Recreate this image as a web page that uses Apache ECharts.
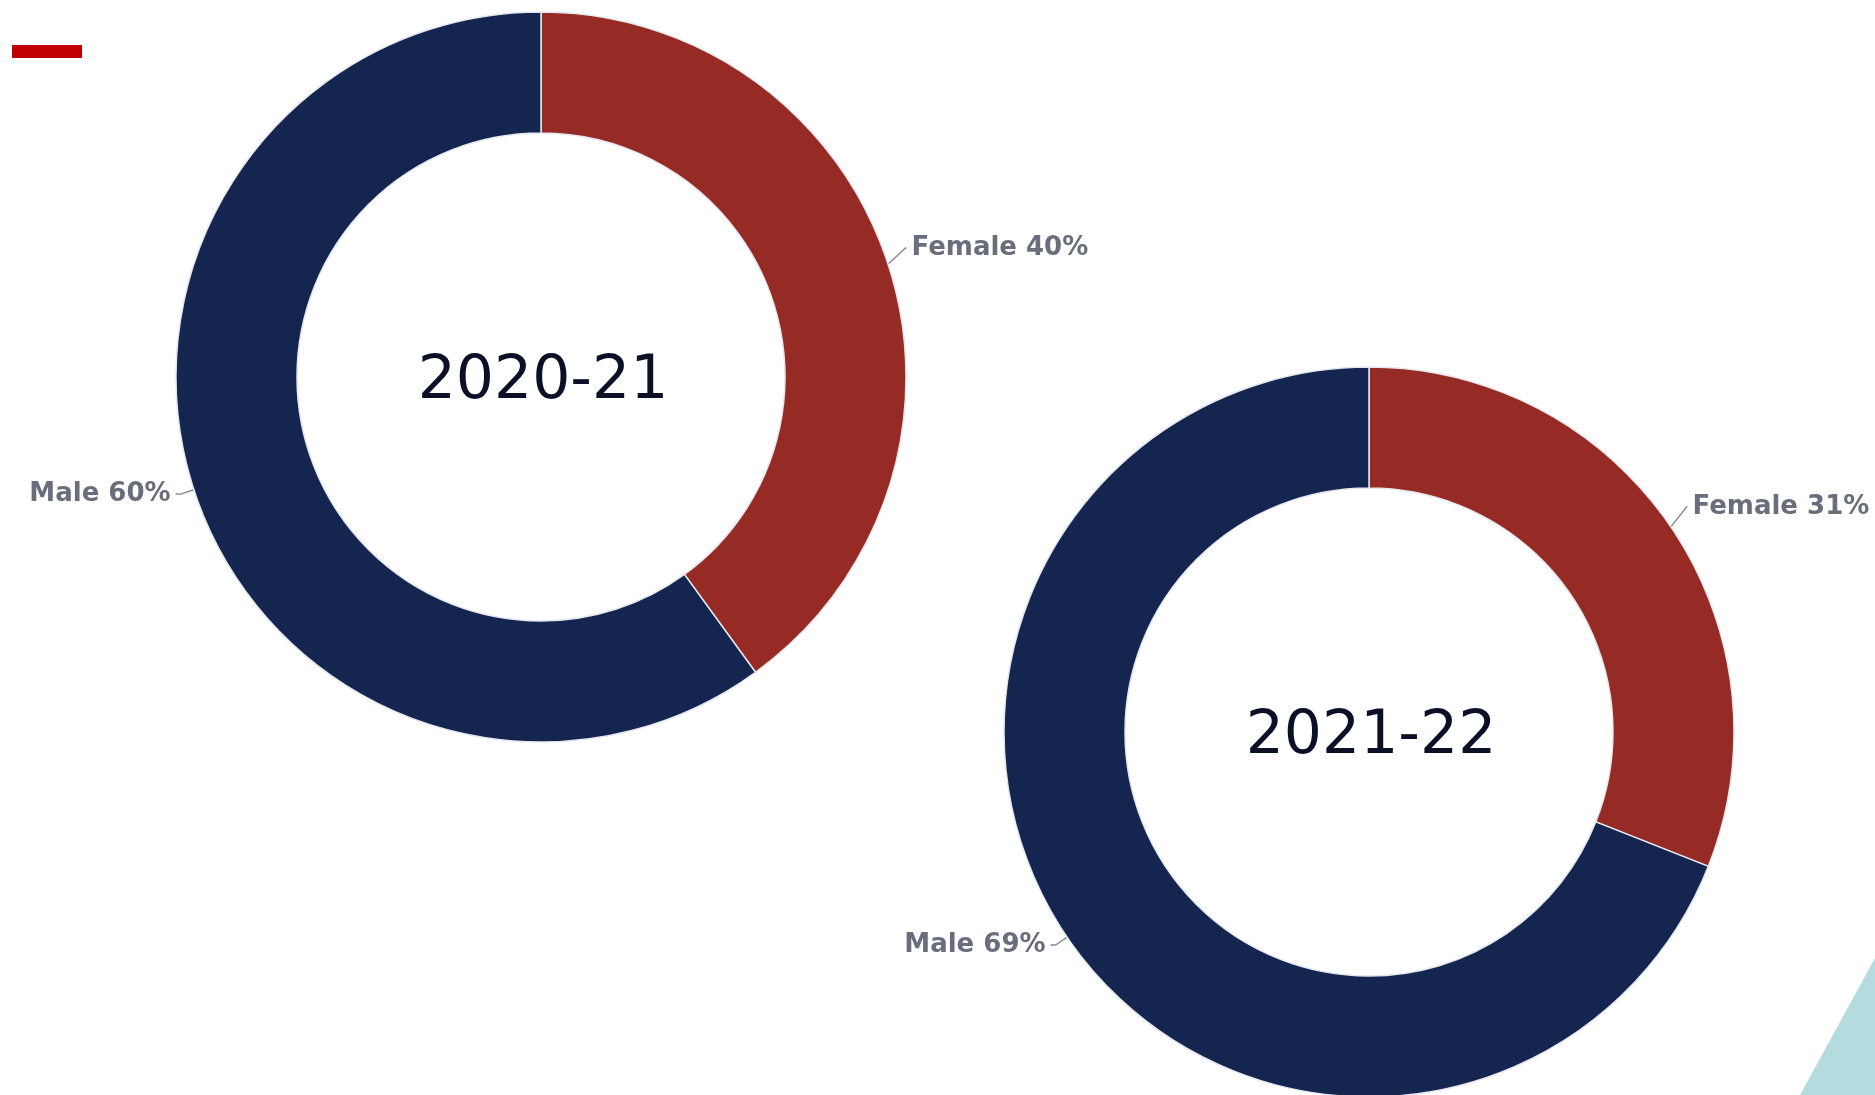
<!DOCTYPE html>
<html>
<head>
<meta charset="utf-8">
<script src="https://cdn.jsdelivr.net/npm/echarts@6/dist/echarts.min.js"></script>
<style>
  html, body { margin: 0; padding: 0; background: #fff; }
  #main { width: 1875px; height: 1095px; }
</style>
</head>
<body>
<div id="main"></div>
<script>
// 数据
const years = ['2020-21', '2021-22']
const categories = ['Female', 'Male']
const female = [40, 31]
const male = [60, 69]

const colors = ['#962b25', '#14264f']
// 两个环形图的位置
const centers = [[541, 377], [1369, 732]]

const myChart = echarts.init(document.getElementById('main'))

const series = years.map(function (y, i) {
  return {
    name: y,
    type: 'pie',
    center: centers[i],
    radius: [244, 365],
    startAngle: 90,
    clockwise: true,
    avoidLabelOverlap: false,
    itemStyle: {
      borderColor: '#e6e7ee',
      borderWidth: 1.5
    },
    label: {
      show: true,
      position: 'outside',
      formatter: '{b} {c}%',
      color: '#6a6d7b',
      fontFamily: 'DejaVu Sans',
      fontWeight: 'bold',
      fontSize: 26
    },
    labelLine: {
      show: true,
      length: 14,
      length2: 5,
      smooth: false,
      lineStyle: { color: '#8a8c98', width: 1.5 }
    },
    // 女性标签往上挪一点, 引导线跟着走
    labelLayout: function (params) {
      if (params.dataIndex !== 0 || !params.labelLinePoints) {
        return {}
      }
      const dy = -12
      const pts = params.labelLinePoints
      return {
        dy: dy,
        labelLinePoints: [
          pts[0],
          [pts[1][0] + 4, pts[1][1] + dy],
          [pts[2][0], pts[2][1] + dy]
        ]
      }
    },
    emphasis: { disabled: true },
    data: [
      { name: categories[0], value: female[i], itemStyle: { color: colors[0] } },
      { name: categories[1], value: male[i], itemStyle: { color: colors[1] } }
    ]
  }
})

const option = {
  animation: false,
  backgroundColor: '#ffffff',
  // 中间的年份文字
  title: years.map(function (y, i) {
    return {
      text: y,
      left: centers[i][0] - 3,
      top: centers[i][1],
      textAlign: 'center',
      textVerticalAlign: 'middle',
      textStyle: {
        color: '#0b1026',
        fontFamily: 'DejaVu Sans',
        fontWeight: 'normal',
        fontSize: 60
      }
    }
  }),
  graphic: [
    // 左上角红色短条
    { type: 'rect', shape: { x: 12, y: 45, width: 70, height: 13 }, style: { fill: '#c00000' } },
    // 右下角装饰三角
    { type: 'polygon', shape: { points: [[1875, 958], [1800, 1095], [1875, 1095]] }, style: { fill: '#b4dcdf' } }
  ],
  series: series
}

myChart.setOption(option)
window.onresize = function () { myChart.resize() }
</script>
</body>
</html>
